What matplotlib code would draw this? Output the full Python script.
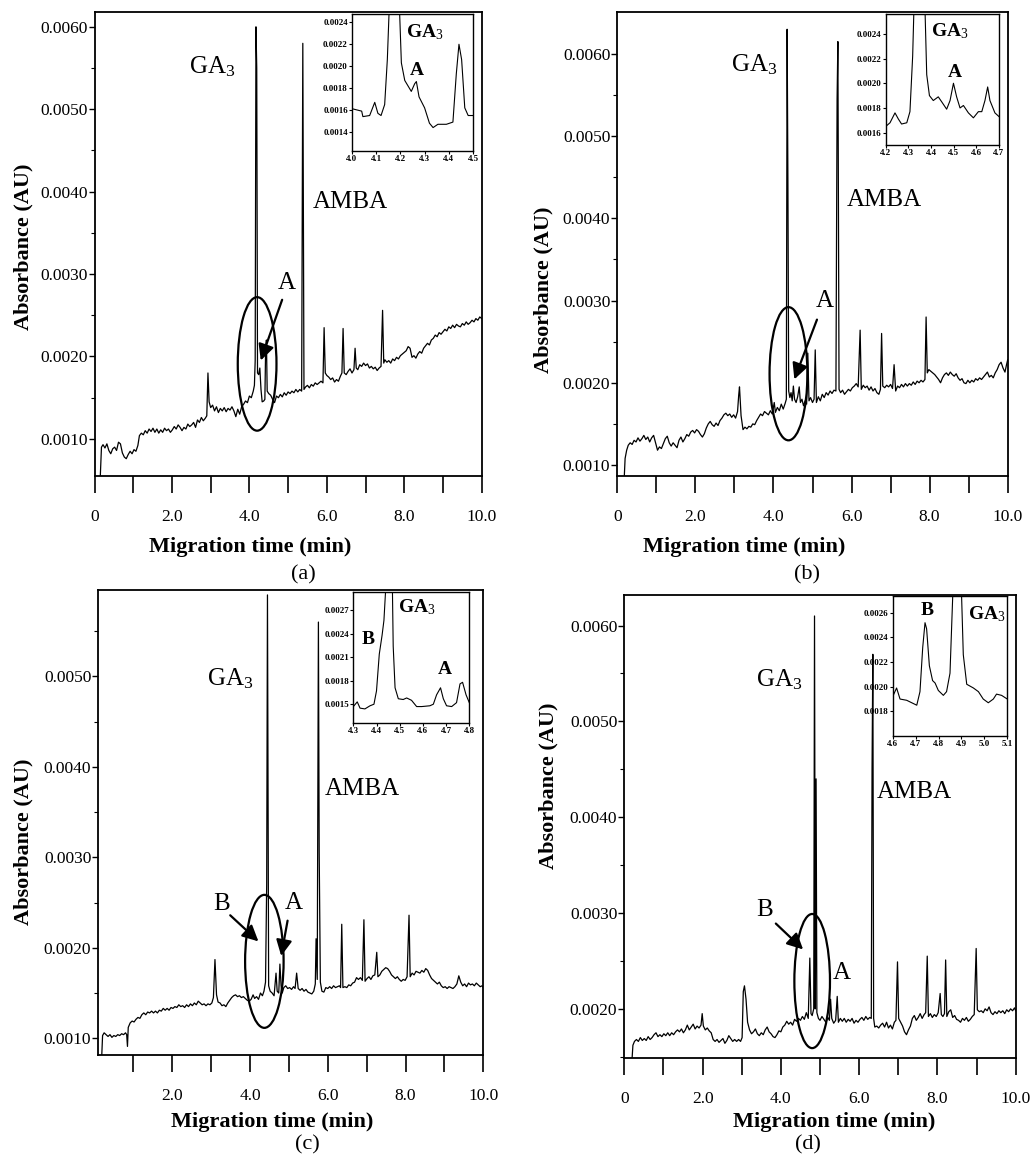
import matplotlib
matplotlib.use("Agg")
import matplotlib.pyplot as plt
from matplotlib.patches import Ellipse
import numpy as np

plt.rcParams['font.family'] = 'Liberation Serif'
plt.rcParams['mathtext.fontset'] = 'custom'
plt.rcParams['mathtext.rm'] = 'Liberation Serif'
plt.rcParams['mathtext.it'] = 'Liberation Serif:italic'
plt.rcParams['mathtext.bf'] = 'Liberation Serif:bold'

# ---- electropherogram traces: (time min, absorbance AU) ----
trace_a = [
    (0.15, 0.00055), (0.18, 0.00090), (0.22, 0.00093), (0.27, 0.00089), (0.32, 0.00094), (0.37, 0.00086),
    (0.42, 0.00082), (0.47, 0.00088), (0.52, 0.00090), (0.57, 0.00086), (0.62, 0.00096), (0.67, 0.00094),
    (0.72, 0.00083), (0.77, 0.00078), (0.82, 0.00076), (0.87, 0.00081), (0.92, 0.00085), (0.97, 0.00082),
    (1.02, 0.00087), (1.07, 0.00085), (1.12, 0.00092), (1.16, 0.00104), (1.21, 0.00107), (1.26, 0.00105),
    (1.31, 0.00110), (1.36, 0.00107), (1.41, 0.00112), (1.46, 0.00109), (1.51, 0.00113), (1.56, 0.00108),
    (1.61, 0.00112), (1.66, 0.00107), (1.71, 0.00111), (1.76, 0.00108), (1.81, 0.00113), (1.86, 0.00110),
    (1.91, 0.00112), (1.96, 0.00108), (2.01, 0.00111), (2.06, 0.00115), (2.11, 0.00112), (2.16, 0.00117),
    (2.21, 0.00114), (2.26, 0.00110), (2.31, 0.00114), (2.36, 0.00112), (2.41, 0.00118), (2.46, 0.00115),
    (2.51, 0.00117), (2.56, 0.00120), (2.61, 0.00114), (2.66, 0.00123), (2.71, 0.00120), (2.76, 0.00126),
    (2.81, 0.00122), (2.86, 0.00125), (2.90, 0.00128), (2.93, 0.00180), (2.96, 0.00145), (3.00, 0.00138),
    (3.05, 0.00141), (3.10, 0.00134), (3.15, 0.00139), (3.20, 0.00132), (3.25, 0.00137), (3.30, 0.00134),
    (3.35, 0.00138), (3.40, 0.00133), (3.45, 0.00137), (3.50, 0.00135), (3.55, 0.00139), (3.60, 0.00134),
    (3.65, 0.00127), (3.70, 0.00136), (3.75, 0.00130), (3.80, 0.00139), (3.85, 0.00142), (3.90, 0.00146),
    (3.95, 0.00144), (4.00, 0.00152), (4.05, 0.00150), (4.10, 0.00158), (4.13, 0.00165), (4.15, 0.00195),
    (4.17, 0.00600), (4.19, 0.00550), (4.21, 0.00180), (4.24, 0.00178), (4.27, 0.00186), (4.30, 0.00160),
    (4.33, 0.00145), (4.37, 0.00146), (4.40, 0.00148), (4.42, 0.00210), (4.44, 0.00220), (4.46, 0.00158),
    (4.50, 0.00155), (4.55, 0.00153), (4.60, 0.00148), (4.65, 0.00144), (4.70, 0.00152), (4.75, 0.00150),
    (4.80, 0.00154), (4.85, 0.00151), (4.90, 0.00156), (4.95, 0.00153), (5.00, 0.00157), (5.05, 0.00155),
    (5.10, 0.00158), (5.15, 0.00156), (5.20, 0.00160), (5.25, 0.00157), (5.30, 0.00160), (5.35, 0.00158),
    (5.38, 0.00580), (5.41, 0.00160), (5.45, 0.00163), (5.50, 0.00165), (5.55, 0.00162), (5.60, 0.00166),
    (5.65, 0.00164), (5.70, 0.00168), (5.75, 0.00166), (5.80, 0.00168), (5.85, 0.00170), (5.90, 0.00168),
    (5.93, 0.00235), (5.96, 0.00180), (6.00, 0.00177), (6.05, 0.00175), (6.10, 0.00172), (6.15, 0.00174),
    (6.20, 0.00169), (6.25, 0.00172), (6.30, 0.00170), (6.35, 0.00176), (6.39, 0.00180), (6.42, 0.00234),
    (6.45, 0.00180), (6.50, 0.00178), (6.55, 0.00182), (6.60, 0.00185), (6.65, 0.00180), (6.70, 0.00184),
    (6.73, 0.00210), (6.76, 0.00186), (6.80, 0.00184), (6.85, 0.00190), (6.90, 0.00188), (6.95, 0.00192),
    (7.00, 0.00189), (7.05, 0.00191), (7.10, 0.00186), (7.15, 0.00188), (7.20, 0.00185), (7.25, 0.00187),
    (7.30, 0.00183), (7.35, 0.00186), (7.40, 0.00188), (7.44, 0.00256), (7.47, 0.00192), (7.50, 0.00196),
    (7.55, 0.00193), (7.60, 0.00195), (7.65, 0.00192), (7.70, 0.00197), (7.75, 0.00195), (7.80, 0.00199),
    (7.85, 0.00197), (7.90, 0.00201), (7.95, 0.00203), (8.00, 0.00205), (8.05, 0.00207), (8.10, 0.00212),
    (8.15, 0.00210), (8.20, 0.00199), (8.25, 0.00201), (8.30, 0.00198), (8.35, 0.00203), (8.40, 0.00206),
    (8.45, 0.00204), (8.50, 0.00210), (8.55, 0.00213), (8.60, 0.00216), (8.65, 0.00214), (8.70, 0.00220),
    (8.75, 0.00222), (8.80, 0.00226), (8.85, 0.00224), (8.90, 0.00229), (8.95, 0.00227), (9.00, 0.00230),
    (9.05, 0.00233), (9.10, 0.00231), (9.15, 0.00236), (9.20, 0.00234), (9.25, 0.00238), (9.30, 0.00235),
    (9.35, 0.00239), (9.40, 0.00237), (9.45, 0.00236), (9.50, 0.00240), (9.55, 0.00238), (9.60, 0.00242),
    (9.65, 0.00239), (9.70, 0.00241), (9.75, 0.00244), (9.80, 0.00242), (9.85, 0.00246), (9.90, 0.00244),
    (9.95, 0.00248), (10.00, 0.00246),
]

trace_b = [
    (0.18, 0.00087), (0.20, 0.00108), (0.24, 0.00118), (0.28, 0.00124), (0.33, 0.00127), (0.38, 0.00125),
    (0.43, 0.00130), (0.48, 0.00128), (0.53, 0.00133), (0.58, 0.00129), (0.63, 0.00132), (0.68, 0.00136),
    (0.73, 0.00131), (0.78, 0.00134), (0.83, 0.00128), (0.88, 0.00133), (0.93, 0.00136), (0.98, 0.00127),
    (1.03, 0.00118), (1.08, 0.00122), (1.13, 0.00120), (1.18, 0.00126), (1.23, 0.00132), (1.28, 0.00135),
    (1.33, 0.00127), (1.38, 0.00123), (1.43, 0.00127), (1.48, 0.00124), (1.53, 0.00121), (1.58, 0.00130),
    (1.63, 0.00134), (1.68, 0.00128), (1.73, 0.00132), (1.78, 0.00137), (1.83, 0.00135), (1.88, 0.00140),
    (1.93, 0.00142), (1.98, 0.00139), (2.03, 0.00143), (2.08, 0.00141), (2.13, 0.00137), (2.18, 0.00134),
    (2.23, 0.00138), (2.28, 0.00145), (2.33, 0.00150), (2.38, 0.00153), (2.43, 0.00149), (2.48, 0.00147),
    (2.53, 0.00151), (2.58, 0.00148), (2.63, 0.00154), (2.68, 0.00157), (2.73, 0.00161), (2.78, 0.00163),
    (2.83, 0.00160), (2.88, 0.00162), (2.93, 0.00158), (2.98, 0.00161), (3.03, 0.00157), (3.08, 0.00165),
    (3.11, 0.00185), (3.13, 0.00195), (3.17, 0.00160), (3.22, 0.00143), (3.27, 0.00146), (3.32, 0.00144),
    (3.37, 0.00147), (3.42, 0.00146), (3.47, 0.00150), (3.52, 0.00149), (3.57, 0.00154), (3.62, 0.00158),
    (3.67, 0.00162), (3.72, 0.00160), (3.77, 0.00165), (3.82, 0.00163), (3.87, 0.00161), (3.92, 0.00166),
    (3.97, 0.00162), (4.02, 0.00176), (4.05, 0.00164), (4.10, 0.00170), (4.15, 0.00166), (4.20, 0.00174),
    (4.25, 0.00168), (4.30, 0.00175), (4.33, 0.00180), (4.35, 0.00630), (4.37, 0.00445), (4.39, 0.00190),
    (4.42, 0.00182), (4.45, 0.00188), (4.48, 0.00178), (4.51, 0.00196), (4.54, 0.00180), (4.58, 0.00176),
    (4.62, 0.00183), (4.66, 0.00195), (4.69, 0.00176), (4.73, 0.00180), (4.77, 0.00172), (4.81, 0.00178),
    (4.85, 0.00174), (4.88, 0.00236), (4.91, 0.00178), (4.95, 0.00182), (5.00, 0.00176), (5.04, 0.00180),
    (5.07, 0.00240), (5.10, 0.00176), (5.15, 0.00183), (5.20, 0.00178), (5.25, 0.00186), (5.30, 0.00182),
    (5.35, 0.00188), (5.40, 0.00185), (5.45, 0.00190), (5.50, 0.00187), (5.55, 0.00191), (5.60, 0.00190),
    (5.63, 0.00545), (5.65, 0.00615), (5.68, 0.00192), (5.72, 0.00188), (5.77, 0.00191), (5.82, 0.00186),
    (5.87, 0.00189), (5.92, 0.00192), (5.97, 0.00190), (6.02, 0.00194), (6.07, 0.00196), (6.12, 0.00199),
    (6.17, 0.00195), (6.22, 0.00264), (6.25, 0.00192), (6.30, 0.00197), (6.35, 0.00194), (6.40, 0.00196),
    (6.45, 0.00191), (6.50, 0.00195), (6.55, 0.00190), (6.60, 0.00193), (6.65, 0.00188), (6.70, 0.00186),
    (6.74, 0.00192), (6.77, 0.00260), (6.80, 0.00196), (6.85, 0.00194), (6.90, 0.00197), (6.95, 0.00195),
    (7.00, 0.00198), (7.05, 0.00193), (7.09, 0.00222), (7.13, 0.00190), (7.18, 0.00196), (7.23, 0.00194),
    (7.28, 0.00198), (7.33, 0.00195), (7.38, 0.00199), (7.43, 0.00196), (7.48, 0.00199), (7.53, 0.00197),
    (7.58, 0.00201), (7.63, 0.00198), (7.68, 0.00202), (7.73, 0.00200), (7.78, 0.00203), (7.83, 0.00201),
    (7.88, 0.00204), (7.91, 0.00280), (7.94, 0.00212), (7.98, 0.00216), (8.03, 0.00214), (8.08, 0.00212),
    (8.13, 0.00210), (8.18, 0.00207), (8.23, 0.00204), (8.28, 0.00200), (8.33, 0.00206), (8.38, 0.00210),
    (8.43, 0.00212), (8.48, 0.00209), (8.53, 0.00213), (8.58, 0.00210), (8.63, 0.00208), (8.68, 0.00211),
    (8.73, 0.00206), (8.78, 0.00203), (8.83, 0.00205), (8.88, 0.00200), (8.93, 0.00199), (8.98, 0.00203),
    (9.03, 0.00200), (9.08, 0.00203), (9.13, 0.00201), (9.18, 0.00205), (9.23, 0.00203), (9.28, 0.00206),
    (9.33, 0.00204), (9.38, 0.00207), (9.43, 0.00210), (9.48, 0.00213), (9.53, 0.00207), (9.58, 0.00209),
    (9.63, 0.00206), (9.68, 0.00212), (9.73, 0.00216), (9.78, 0.00222), (9.83, 0.00225), (9.88, 0.00218),
    (9.93, 0.00213), (9.97, 0.00222), (10.00, 0.00228),
]

trace_c = [
    (0.19, 0.00082), (0.21, 0.00103), (0.25, 0.00106), (0.30, 0.00104), (0.35, 0.00102), (0.40, 0.00104),
    (0.45, 0.00101), (0.50, 0.00103), (0.55, 0.00102), (0.60, 0.00104), (0.65, 0.00103), (0.70, 0.00105),
    (0.75, 0.00104), (0.80, 0.00106), (0.83, 0.00104), (0.85, 0.00091), (0.87, 0.00112), (0.92, 0.00117),
    (0.97, 0.00119), (1.02, 0.00118), (1.07, 0.00121), (1.12, 0.00123), (1.17, 0.00122), (1.22, 0.00126),
    (1.27, 0.00128), (1.32, 0.00126), (1.37, 0.00129), (1.42, 0.00128), (1.47, 0.00130), (1.52, 0.00128),
    (1.57, 0.00130), (1.62, 0.00128), (1.67, 0.00131), (1.72, 0.00130), (1.77, 0.00133), (1.82, 0.00131),
    (1.87, 0.00133), (1.92, 0.00131), (1.97, 0.00134), (2.02, 0.00133), (2.07, 0.00135), (2.12, 0.00134),
    (2.17, 0.00137), (2.22, 0.00135), (2.27, 0.00136), (2.32, 0.00134), (2.37, 0.00137), (2.42, 0.00135),
    (2.47, 0.00138), (2.52, 0.00136), (2.57, 0.00139), (2.62, 0.00137), (2.67, 0.00141), (2.72, 0.00139),
    (2.77, 0.00137), (2.82, 0.00138), (2.87, 0.00136), (2.92, 0.00138), (2.97, 0.00137), (3.02, 0.00139),
    (3.06, 0.00145), (3.10, 0.00187), (3.14, 0.00148), (3.18, 0.00140), (3.23, 0.00139), (3.28, 0.00136),
    (3.33, 0.00137), (3.38, 0.00135), (3.43, 0.00139), (3.48, 0.00142), (3.53, 0.00145), (3.58, 0.00147),
    (3.63, 0.00148), (3.68, 0.00146), (3.73, 0.00147), (3.78, 0.00145), (3.83, 0.00146), (3.88, 0.00144),
    (3.93, 0.00142), (3.98, 0.00141), (4.03, 0.00143), (4.08, 0.00148), (4.12, 0.00144), (4.17, 0.00146),
    (4.22, 0.00143), (4.27, 0.00150), (4.32, 0.00147), (4.36, 0.00152), (4.40, 0.00162), (4.43, 0.00270),
    (4.45, 0.00590), (4.48, 0.00158), (4.52, 0.00152), (4.57, 0.00150), (4.62, 0.00147), (4.67, 0.00172),
    (4.70, 0.00152), (4.74, 0.00150), (4.77, 0.00182), (4.80, 0.00158), (4.83, 0.00150), (4.87, 0.00156),
    (4.92, 0.00158), (4.97, 0.00155), (5.02, 0.00156), (5.07, 0.00154), (5.12, 0.00157), (5.16, 0.00155),
    (5.20, 0.00172), (5.24, 0.00155), (5.29, 0.00153), (5.34, 0.00155), (5.39, 0.00152), (5.44, 0.00154),
    (5.49, 0.00151), (5.54, 0.00150), (5.59, 0.00149), (5.64, 0.00152), (5.68, 0.00160), (5.70, 0.00210),
    (5.73, 0.00165), (5.76, 0.00560), (5.78, 0.00305), (5.81, 0.00162), (5.85, 0.00152), (5.90, 0.00151),
    (5.95, 0.00156), (6.00, 0.00155), (6.05, 0.00157), (6.10, 0.00155), (6.15, 0.00158), (6.20, 0.00156),
    (6.25, 0.00157), (6.30, 0.00158), (6.33, 0.00156), (6.36, 0.00226), (6.39, 0.00156), (6.44, 0.00157),
    (6.49, 0.00156), (6.54, 0.00159), (6.59, 0.00158), (6.64, 0.00161), (6.69, 0.00162), (6.74, 0.00167),
    (6.79, 0.00165), (6.84, 0.00167), (6.89, 0.00164), (6.93, 0.00231), (6.96, 0.00163), (7.01, 0.00166),
    (7.06, 0.00168), (7.11, 0.00165), (7.16, 0.00169), (7.21, 0.00170), (7.26, 0.00195), (7.29, 0.00168),
    (7.34, 0.00170), (7.39, 0.00174), (7.44, 0.00176), (7.49, 0.00178), (7.54, 0.00177), (7.59, 0.00174),
    (7.64, 0.00170), (7.69, 0.00168), (7.74, 0.00166), (7.79, 0.00168), (7.84, 0.00165), (7.89, 0.00163),
    (7.94, 0.00165), (7.99, 0.00164), (8.04, 0.00168), (8.09, 0.00236), (8.12, 0.00168), (8.17, 0.00172),
    (8.22, 0.00170), (8.27, 0.00174), (8.32, 0.00173), (8.37, 0.00172), (8.42, 0.00175), (8.47, 0.00173),
    (8.52, 0.00177), (8.57, 0.00175), (8.62, 0.00170), (8.67, 0.00166), (8.72, 0.00164), (8.77, 0.00162),
    (8.82, 0.00160), (8.87, 0.00162), (8.92, 0.00158), (8.97, 0.00156), (9.02, 0.00157), (9.07, 0.00155),
    (9.12, 0.00157), (9.17, 0.00156), (9.22, 0.00155), (9.27, 0.00157), (9.32, 0.00160), (9.37, 0.00169),
    (9.42, 0.00162), (9.47, 0.00158), (9.52, 0.00160), (9.57, 0.00157), (9.62, 0.00161), (9.67, 0.00159),
    (9.72, 0.00160), (9.77, 0.00158), (9.82, 0.00161), (9.87, 0.00159), (9.92, 0.00157), (9.97, 0.00158),
    (10.00, 0.00156),
]

trace_d = [
    (0.20, 0.00149), (0.22, 0.00162), (0.26, 0.00166), (0.31, 0.00168), (0.36, 0.00166), (0.41, 0.00170),
    (0.46, 0.00167), (0.51, 0.00169), (0.56, 0.00167), (0.61, 0.00171), (0.66, 0.00168), (0.71, 0.00170),
    (0.76, 0.00173), (0.81, 0.00175), (0.86, 0.00171), (0.91, 0.00173), (0.96, 0.00171), (1.01, 0.00174),
    (1.06, 0.00172), (1.11, 0.00175), (1.16, 0.00172), (1.21, 0.00175), (1.26, 0.00173), (1.31, 0.00176),
    (1.36, 0.00178), (1.41, 0.00176), (1.46, 0.00179), (1.51, 0.00175), (1.56, 0.00178), (1.61, 0.00183),
    (1.66, 0.00178), (1.71, 0.00181), (1.76, 0.00184), (1.81, 0.00179), (1.86, 0.00182), (1.91, 0.00180),
    (1.96, 0.00183), (1.99, 0.00195), (2.02, 0.00182), (2.07, 0.00178), (2.12, 0.00180), (2.17, 0.00177),
    (2.22, 0.00175), (2.27, 0.00168), (2.32, 0.00166), (2.37, 0.00168), (2.42, 0.00165), (2.47, 0.00167),
    (2.52, 0.00169), (2.57, 0.00164), (2.62, 0.00167), (2.67, 0.00172), (2.72, 0.00169), (2.77, 0.00166),
    (2.82, 0.00168), (2.87, 0.00166), (2.92, 0.00168), (2.97, 0.00166), (3.01, 0.00170), (3.04, 0.00218),
    (3.07, 0.00224), (3.11, 0.00210), (3.15, 0.00186), (3.20, 0.00178), (3.25, 0.00174), (3.30, 0.00176),
    (3.35, 0.00179), (3.40, 0.00174), (3.45, 0.00172), (3.50, 0.00175), (3.55, 0.00173), (3.60, 0.00178),
    (3.65, 0.00181), (3.70, 0.00176), (3.75, 0.00174), (3.80, 0.00171), (3.85, 0.00170), (3.90, 0.00173),
    (3.95, 0.00177), (4.00, 0.00176), (4.05, 0.00181), (4.10, 0.00183), (4.15, 0.00187), (4.20, 0.00184),
    (4.25, 0.00186), (4.30, 0.00183), (4.35, 0.00189), (4.40, 0.00187), (4.45, 0.00190), (4.50, 0.00188),
    (4.55, 0.00192), (4.60, 0.00189), (4.65, 0.00196), (4.70, 0.00190), (4.74, 0.00253), (4.77, 0.00195),
    (4.80, 0.00193), (4.84, 0.00200), (4.86, 0.00610), (4.88, 0.00200), (4.90, 0.00440), (4.92, 0.00196),
    (4.96, 0.00190), (5.00, 0.00188), (5.05, 0.00192), (5.10, 0.00189), (5.15, 0.00186), (5.20, 0.00191),
    (5.24, 0.00188), (5.27, 0.00210), (5.30, 0.00190), (5.35, 0.00185), (5.40, 0.00188), (5.44, 0.00213),
    (5.47, 0.00186), (5.52, 0.00190), (5.57, 0.00187), (5.62, 0.00190), (5.67, 0.00186), (5.72, 0.00189),
    (5.77, 0.00187), (5.82, 0.00190), (5.87, 0.00185), (5.92, 0.00188), (5.97, 0.00186), (6.02, 0.00189),
    (6.07, 0.00191), (6.12, 0.00188), (6.17, 0.00192), (6.22, 0.00189), (6.27, 0.00191), (6.31, 0.00190),
    (6.33, 0.00450), (6.35, 0.00570), (6.37, 0.00190), (6.40, 0.00181), (6.45, 0.00182), (6.50, 0.00180),
    (6.55, 0.00183), (6.60, 0.00185), (6.65, 0.00181), (6.70, 0.00186), (6.75, 0.00180), (6.80, 0.00183),
    (6.85, 0.00179), (6.90, 0.00186), (6.94, 0.00188), (6.98, 0.00249), (7.01, 0.00190), (7.06, 0.00186),
    (7.11, 0.00182), (7.16, 0.00176), (7.21, 0.00173), (7.26, 0.00178), (7.31, 0.00182), (7.36, 0.00190),
    (7.41, 0.00193), (7.46, 0.00188), (7.51, 0.00191), (7.56, 0.00195), (7.61, 0.00190), (7.66, 0.00194),
    (7.70, 0.00196), (7.74, 0.00255), (7.77, 0.00192), (7.82, 0.00195), (7.87, 0.00191), (7.92, 0.00194),
    (7.97, 0.00192), (8.02, 0.00196), (8.07, 0.00216), (8.10, 0.00194), (8.14, 0.00192), (8.18, 0.00195),
    (8.21, 0.00251), (8.24, 0.00192), (8.29, 0.00197), (8.34, 0.00199), (8.39, 0.00191), (8.44, 0.00193),
    (8.49, 0.00189), (8.54, 0.00188), (8.59, 0.00186), (8.64, 0.00190), (8.69, 0.00188), (8.74, 0.00191),
    (8.79, 0.00187), (8.84, 0.00189), (8.89, 0.00192), (8.94, 0.00194), (8.99, 0.00263), (9.02, 0.00199),
    (9.07, 0.00197), (9.12, 0.00198), (9.17, 0.00196), (9.22, 0.00200), (9.27, 0.00198), (9.32, 0.00202),
    (9.37, 0.00196), (9.42, 0.00194), (9.47, 0.00197), (9.52, 0.00195), (9.57, 0.00198), (9.62, 0.00196),
    (9.67, 0.00198), (9.72, 0.00195), (9.77, 0.00199), (9.82, 0.00197), (9.87, 0.00200), (9.92, 0.00198),
    (9.97, 0.00201), (10.00, 0.00198),
]

# ---- zoomed insets ----
inset_a = [
    (4.004, 0.00161), (4.040, 0.00159), (4.045, 0.00154), (4.073, 0.00155), (4.094, 0.00167), (4.107, 0.00157),
    (4.120, 0.00155), (4.135, 0.00165), (4.146, 0.00206), (4.155, 0.00260), (4.195, 0.00260), (4.204, 0.00203),
    (4.218, 0.00187), (4.245, 0.00177), (4.259, 0.00184), (4.266, 0.00186), (4.277, 0.00172), (4.300, 0.00162),
    (4.320, 0.00148), (4.335, 0.00144), (4.355, 0.00147), (4.390, 0.00147), (4.417, 0.00149), (4.431, 0.00193),
    (4.442, 0.00220), (4.453, 0.00206), (4.466, 0.00162), (4.480, 0.00155), (4.500, 0.00155),
]
inset_b = [
    (4.200, 0.00165), (4.219, 0.00168), (4.241, 0.00176), (4.256, 0.00171), (4.270, 0.00167), (4.293, 0.00168),
    (4.307, 0.00177), (4.319, 0.00222), (4.326, 0.00270), (4.372, 0.00270), (4.381, 0.00207), (4.393, 0.00190),
    (4.410, 0.00186), (4.432, 0.00189), (4.447, 0.00185), (4.469, 0.00179), (4.484, 0.00186), (4.499, 0.00200),
    (4.513, 0.00189), (4.528, 0.00180), (4.543, 0.00182), (4.565, 0.00176), (4.587, 0.00172), (4.609, 0.00177),
    (4.624, 0.00177), (4.638, 0.00186), (4.650, 0.00197), (4.660, 0.00186), (4.682, 0.00176), (4.700, 0.00173),
]
inset_c = [
    (4.303, 0.00148), (4.317, 0.00153), (4.329, 0.00145), (4.350, 0.00144), (4.372, 0.00148), (4.389, 0.00150),
    (4.400, 0.00167), (4.412, 0.00214), (4.424, 0.00238), (4.432, 0.00257), (4.442, 0.00310), (4.468, 0.00310),
    (4.472, 0.00224), (4.480, 0.00171), (4.494, 0.00157), (4.515, 0.00156), (4.530, 0.00158), (4.551, 0.00155),
    (4.573, 0.00147), (4.595, 0.00147), (4.630, 0.00148), (4.645, 0.00150), (4.659, 0.00162), (4.676, 0.00171),
    (4.688, 0.00157), (4.702, 0.00148), (4.724, 0.00147), (4.745, 0.00152), (4.760, 0.00176), (4.771, 0.00178),
    (4.786, 0.00162), (4.800, 0.00152),
]
inset_d = [
    (4.600, 0.00192), (4.617, 0.00199), (4.632, 0.00190), (4.661, 0.00189), (4.683, 0.00187), (4.705, 0.00185),
    (4.719, 0.00196), (4.731, 0.00232), (4.741, 0.00252), (4.748, 0.00247), (4.760, 0.00217), (4.774, 0.00205),
    (4.785, 0.00203), (4.799, 0.00197), (4.821, 0.00193), (4.835, 0.00196), (4.850, 0.00211), (4.865, 0.00290),
    (4.898, 0.00290), (4.908, 0.00226), (4.923, 0.00202), (4.952, 0.00199), (4.974, 0.00196), (4.995, 0.00190),
    (5.017, 0.00187), (5.039, 0.00190), (5.053, 0.00194), (5.075, 0.00193), (5.100, 0.00190),
]

W, H = 1031, 1157
fig = plt.figure(figsize=(W / 100, H / 100), dpi=100)


def px_axes(left, top, right, bottom):
    return fig.add_axes([left / W, 1 - bottom / H, (right - left) / W, (bottom - top) / H])


def main_panel(box, trace, xlim, ylim, yticks, xlabels):
    ax = px_axes(*box)
    t, a = zip(*trace)
    ax.plot(t, a, color='black', lw=0.9)
    ax.set_xticks(range(0, 11))
    ax.set_xticklabels(xlabels)
    ax.set_yticks(yticks)
    ax.set_yticklabels(['%.4f' % v for v in yticks])
    ax.set_yticks(np.arange(0.0005, 0.0065, 0.0005), minor=True)
    # limits after the ticks, so the tick lists do not widen the view
    ax.set_xlim(*xlim)
    ax.set_ylim(*ylim)
    ax.tick_params(axis='x', direction='out', length=12, width=1.2, pad=12, labelsize=12.5)
    ax.tick_params(axis='y', which='major', direction='out', length=4, width=1.0, labelsize=12.5, pad=1)
    ax.tick_params(axis='y', which='minor', direction='out', length=3, width=0.8)
    for s in ax.spines.values():
        s.set_linewidth(1.3)
    return ax


def inset_panel(box, trace, xlim, ylim, yticks):
    ax = px_axes(*box)
    t, a = zip(*trace)
    ax.plot(t, a, color='black', lw=0.8)
    xt = np.round(np.arange(xlim[0], xlim[1] + 0.01, 0.1), 1)
    ax.set_xticks(xt)
    ax.set_xticklabels(['%.1f' % v for v in xt], fontweight='bold', fontsize=6.5)
    ax.set_yticks(yticks)
    ax.set_yticklabels(['%.4f' % v for v in yticks], fontweight='bold', fontsize=6.5)
    ax.set_xlim(*xlim)
    ax.set_ylim(*ylim)
    ax.tick_params(direction='out', length=2, width=0.8, pad=1)
    for s in ax.spines.values():
        s.set_linewidth(1.0)
    ax.set_zorder(5)
    return ax


def inset_text(ax, x, y, s):
    ax.text(x, y, s, transform=ax.transAxes, fontsize=14, fontweight='bold', ha='center', va='center')


lbl = ['0', '', '2.0', '', '4.0', '', '6.0', '', '8.0', '', '10.0']
lbl_c = ['', '', '2.0', '', '4.0', '', '6.0', '', '8.0', '', '10.0']
big = dict(fontsize=18, ha='center', va='center')
arrow = dict(arrowstyle='-|>', color='black', lw=1.6, mutation_scale=24)
ga3 = r'GA$_\mathrm{3}$'

# (a)
ax = main_panel((94.5, 12, 481.7, 476), trace_a, (0, 10), (0.00055, 0.00618),
                [0.001, 0.002, 0.003, 0.004, 0.005, 0.006], lbl)
ax.text(3.05, 0.00552, ga3, **big)
ax.text(6.6, 0.00387, 'AMBA', **big)
ax.text(4.96, 0.00289, 'A', **big)
ax.add_patch(Ellipse((4.2, 0.00191), 1.0, 0.00162, fill=False, lw=1.6, color='black'))
ax.annotate('', xy=(4.27, 0.00192), xytext=(4.87, 0.00272), arrowprops=arrow)
ins = inset_panel((352, 14, 473, 150.6), inset_a, (4.0, 4.5), (0.00123, 0.002476),
                  [0.0014, 0.0016, 0.0018, 0.0020, 0.0022, 0.0024])
inset_text(ins, 0.60, 0.87, ga3)
inset_text(ins, 0.54, 0.59, 'A')

# (b)
ax = main_panel((617.3, 12, 1007.7, 476), trace_b, (0, 10), (0.000866, 0.00651),
                [0.001, 0.002, 0.003, 0.004, 0.005, 0.006], lbl)
ax.text(3.5, 0.00587, ga3, **big)
ax.text(6.83, 0.00422, 'AMBA', **big)
ax.text(5.32, 0.00300, 'A', **big)
ax.add_patch(Ellipse((4.385, 0.00211), 0.97, 0.00162, fill=False, lw=1.6, color='black'))
ax.annotate('', xy=(4.51, 0.00201), xytext=(5.14, 0.00280), arrowprops=arrow)
ins = inset_panel((885.7, 14.1, 999, 145), inset_b, (4.2, 4.7), (0.0015, 0.00256),
                  [0.0016, 0.0018, 0.0020, 0.0022, 0.0024])
inset_text(ins, 0.57, 0.866, ga3)
inset_text(ins, 0.61, 0.554, 'A')

# (c)
ax = main_panel((98.3, 590.4, 483.3, 1055), trace_c, (0.1, 10), (0.000815, 0.00595),
                [0.001, 0.002, 0.003, 0.004, 0.005], lbl_c)
ax.text(3.5, 0.00497, ga3, **big)
ax.text(6.9, 0.00375, 'AMBA', **big)
ax.text(3.27, 0.00248, 'B', **big)
ax.text(5.13, 0.00249, 'A', **big)
ax.add_patch(Ellipse((4.37, 0.00185), 0.99, 0.00147, fill=False, lw=1.6, color='black'))
ax.annotate('', xy=(4.27, 0.00205), xytext=(3.44, 0.00238), arrowprops=arrow)
ax.annotate('', xy=(4.79, 0.00188), xytext=(4.98, 0.00233), arrowprops=arrow)
ins = inset_panel((353.3, 592.3, 469.3, 723), inset_c, (4.3, 4.8), (0.00126, 0.00293),
                  [0.0015, 0.0018, 0.0021, 0.0024, 0.0027])
inset_text(ins, 0.55, 0.883, ga3)
inset_text(ins, 0.13, 0.64, 'B')
inset_text(ins, 0.79, 0.41, 'A')

# (d)
ax = main_panel((624.3, 594.9, 1015.7, 1057.7), trace_d, (0, 10), (0.00149, 0.00632),
                [0.002, 0.003, 0.004, 0.005, 0.006], lbl)
ax.text(3.95, 0.00544, ga3, **big)
ax.text(7.4, 0.00426, 'AMBA', **big)
ax.text(3.58, 0.00303, 'B', **big)
ax.text(5.55, 0.00237, 'A', **big)
ax.add_patch(Ellipse((4.8, 0.00229), 0.91, 0.0014, fill=False, lw=1.6, color='black'))
ax.annotate('', xy=(4.62, 0.00260), xytext=(3.82, 0.00291), arrowprops=arrow)
ins = inset_panel((892.7, 595.6, 1007.3, 736), inset_d, (4.6, 5.1), (0.0016, 0.00274),
                  [0.0018, 0.0020, 0.0022, 0.0024, 0.0026])
inset_text(ins, 0.30, 0.894, 'B')
inset_text(ins, 0.82, 0.87, ga3)

# axis titles and panel letters
for x, y in [(23, 247), (543, 290), (23, 842), (548, 786)]:
    fig.text(x / W, 1 - y / H, 'Absorbance (AU)', rotation=90, fontsize=16, fontweight='bold',
             ha='center', va='center')
for x, y in [(250, 547), (744, 547), (272, 1122), (834, 1122)]:
    fig.text(x / W, 1 - y / H, 'Migration time (min)', fontsize=16, fontweight='bold',
             ha='center', va='center')
for s, x, y in [('(a)', 303, 575), ('(b)', 807, 575), ('(c)', 307, 1145), ('(d)', 808, 1145)]:
    fig.text(x / W, 1 - y / H, s, fontsize=16, ha='center', va='center')

fig.savefig('out.png', dpi=100)
